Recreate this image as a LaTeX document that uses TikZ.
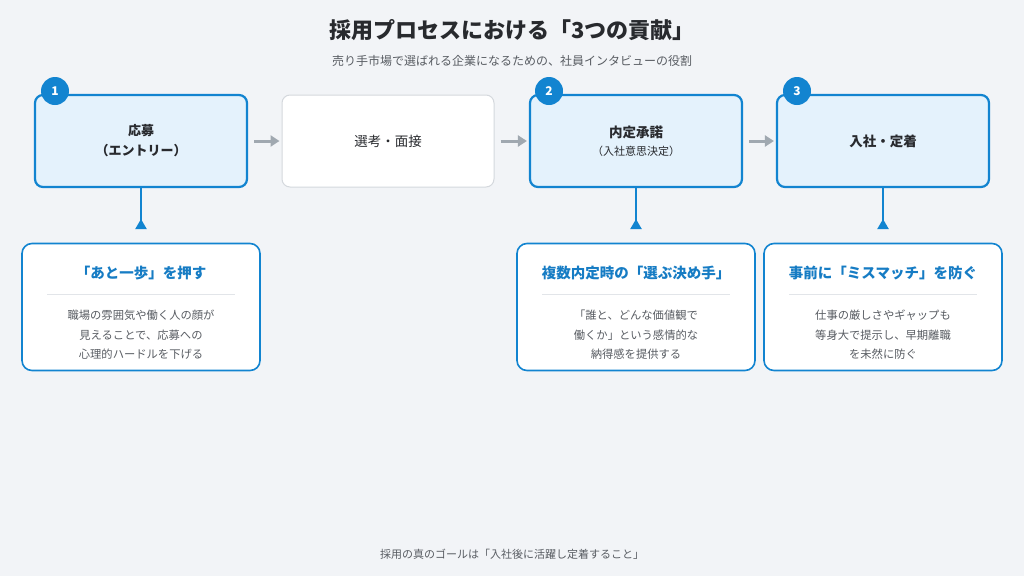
\documentclass[tikz,border=0pt]{standalone}
\usepackage{fontspec}
\setmainfont{Noto Sans CJK JP}
\definecolor{bgpale}{RGB}{242, 244, 247}
\definecolor{stepblue}{RGB}{18, 132, 208}
\definecolor{steppale}{RGB}{228, 242, 252}
\definecolor{headblue}{RGB}{22, 124, 196}
\definecolor{inkdark}{RGB}{40, 42, 46}
\definecolor{inkgray}{RGB}{88, 92, 98}
\definecolor{flowgray}{RGB}{160, 168, 176}
\definecolor{edgegray}{RGB}{212, 216, 221}
\definecolor{rulegray}{RGB}{226, 229, 233}
\usetikzlibrary{arrows.meta, positioning, calc}

\begin{document}
\begin{tikzpicture}[x=1pt, y=-1pt,
  stagebox/.style={draw=stepblue, fill=steppale, line width=2.2pt, rounded corners=8pt, minimum width=212pt, minimum height=92pt, align=center, text=inkdark},
  plainbox/.style={draw=edgegray, fill=white, line width=1pt, rounded corners=8pt, minimum width=212pt, minimum height=92pt, align=center, text=inkdark},
  badge/.style={circle, fill=stepblue, text=white, minimum size=28pt, inner sep=0pt, font=\fontsize{12}{14}\selectfont\bfseries},
  card/.style={draw=stepblue, fill=white, line width=1.6pt, rounded corners=10pt, minimum width=238pt, minimum height=127pt},
  cardhead/.style={text=headblue, font=\fontsize{14.5}{17}\selectfont\bfseries},
  cardbody/.style={text=inkgray, align=center, font=\fontsize{11.3}{19.5}\selectfont},
  flow/.style={draw=flowgray, line width=3pt, -{Triangle[width=11pt, length=9pt]}, shorten <=6pt, shorten >=2pt},
  stem/.style={draw=stepblue, line width=2pt, -{Triangle[reversed, width=11pt, length=10pt]}}
]
  \fill[bgpale] (0,0) rectangle (1024,576);
  \useasboundingbox (0,0) rectangle (1024,576);

  \node[text=inkdark, font=\fontsize{22}{26}\selectfont\bfseries] (title) at (512,30) {採用プロセスにおける「3つの貢献」};
  \node[text=inkgray, font=\fontsize{12}{14}\selectfont] (subtitle) at (512,61) {売り手市場で選ばれる企業になるための、社員インタビューの役割};

  \node[stagebox, font=\fontsize{13}{20}\selectfont\bfseries] (apply) at (141,141) {応募\\（エントリー）};
  \node[plainbox, font=\fontsize{13.5}{16}\selectfont] (select) at (388,141) {選考・面接};
  \node[stagebox] (accept) at (636,141) {{\fontsize{13.5}{16}\selectfont\bfseries 内定承諾}\\[6pt]{\fontsize{11}{13}\selectfont （入社意思決定）}};
  \node[stagebox, font=\fontsize{13.5}{16}\selectfont\bfseries] (settle) at (883,141) {入社・定着};

  \node[badge] (badge1) at (55,91) {1};
  \node[badge] (badge2) at (549,91) {2};
  \node[badge] (badge3) at (797,91) {3};

  \draw[flow] (apply) -- (select);
  \draw[flow] (select) -- (accept);
  \draw[flow] (accept) -- (settle);

  \node[card] (push) at (141,307) {};
  \node[card] (decide) at (636,307) {};
  \node[card] (match) at (883,307) {};

  \coordinate (foot1) at (141,229);
  \coordinate (foot2) at (636,229);
  \coordinate (foot3) at (883,229);
  \draw[stem] (apply.south) -- (foot1);
  \draw[stem] (accept.south) -- (foot2);
  \draw[stem] (settle.south) -- (foot3);

  \node[cardhead] (pushhead) at (141,273) {「あと一歩」を押す};
  \node[cardhead] (decidehead) at (636,273) {複数内定時の「選ぶ決め手」};
  \node[cardhead] (matchhead) at (883,273) {事前に「ミスマッチ」を防ぐ};

  \draw[rulegray, line width=1pt] (47,294) -- (235,294);
  \draw[rulegray, line width=1pt] (542,294) -- (730,294);
  \draw[rulegray, line width=1pt] (789,294) -- (977,294);

  \node[cardbody] (pushbody) at (141,335) {職場の雰囲気や働く人の顔が\\見えることで、応募への\\心理的ハードルを下げる};
  \node[cardbody] (decidebody) at (636,335) {「誰と、どんな価値観で\\働くか」という感情的な\\納得感を提供する};
  \node[cardbody] (matchbody) at (883,335) {仕事の厳しさやギャップも\\等身大で提示し、早期離職\\を未然に防ぐ};

  \node[text=inkgray, font=\fontsize{11}{13}\selectfont] (goal) at (512,554) {採用の真のゴールは「入社後に活躍し定着すること」};
\end{tikzpicture}
\end{document}
